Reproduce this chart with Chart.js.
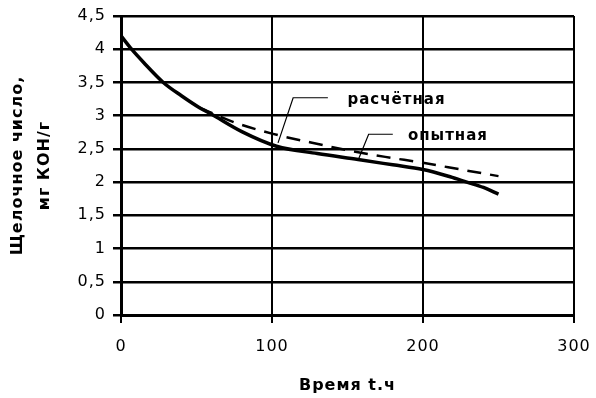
<!DOCTYPE html>
<html>
<head>
<meta charset="utf-8">
<script src="https://cdn.jsdelivr.net/npm/chart.js@4"></script>
<style>
  html, body { margin: 0; padding: 0; background: #fff; }
  #wrap { width: 596px; height: 398px; }
</style>
</head>
<body>
<div id="wrap"><canvas id="c" width="596" height="398"></canvas></div>
<script>
// Experimental curve ("опытная"), solid
const expTime  = [0, 7, 15, 28, 40, 52, 60, 80, 103, 130, 157, 180, 200, 218, 229, 240, 250];
const expValue = [4.2, 4.0, 3.8, 3.5, 3.3, 3.12, 3.02, 2.76, 2.54, 2.43, 2.34, 2.26, 2.19, 2.08, 2.0, 1.92, 1.82];

// Calculated curve ("расчётная"), dashed
const calcTime  = [52, 75, 100, 125, 150, 175, 200, 225, 250];
const calcValue = [3.12, 2.9, 2.73, 2.6, 2.48, 2.38, 2.29, 2.19, 2.09];

// Axis settings
const xTicks = [0, 100, 200, 300];
const yMin = 0, yMax = 4.5, yStep = 0.5;
const xTitle = 'Время t.ч';
const yTitle = ['Щелочное число,', 'мг КОН/г'];

// Callout labels and their leader lines (in data units)
const labelTexts = ['расчётная', 'опытная'];
const labelX = [150, 190];
const labelY = [3.23, 2.69];
const leaderCalcX = [104, 114, 137];
const leaderCalcY = [2.59, 3.27, 3.27];
const leaderExpX = [157, 164, 180];
const leaderExpY = [2.33, 2.72, 2.72];

const toPts = (xs, ys) => xs.map((x, i) => ({ x: x, y: ys[i] }));
const FONT = '"DejaVu Sans", "Liberation Sans", Arial, sans-serif';

const spacingPlugin = {
  id: 'spacing',
  beforeDraw(chart) {
    if ('letterSpacing' in chart.ctx) chart.ctx.letterSpacing = '1px';
  }
};

const calloutPlugin = {
  id: 'callouts',
  afterDatasetsDraw(chart) {
    const ctx = chart.ctx;
    const xs = chart.scales.x, ys = chart.scales.y;
    ctx.save();
    ctx.fillStyle = '#000';
    ctx.font = 'bold 15px ' + FONT;
    ctx.textBaseline = 'middle';
    ctx.textAlign = 'left';
    labelTexts.forEach((t, i) => {
      ctx.fillText(t, xs.getPixelForValue(labelX[i]), ys.getPixelForValue(labelY[i]));
    });
    ctx.restore();
  }
};

new Chart(document.getElementById('c'), {
  type: 'line',
  data: {
    datasets: [
      {
        label: 'опытная',
        data: toPts(expTime, expValue),
        borderColor: '#000',
        borderWidth: 3.5,
        pointRadius: 0,
        cubicInterpolationMode: 'monotone',
        fill: false
      },
      {
        label: 'расчётная',
        data: toPts(calcTime, calcValue),
        borderColor: '#000',
        borderWidth: 2.5,
        borderDash: [14, 9],
        pointRadius: 0,
        cubicInterpolationMode: 'monotone',
        fill: false
      },
      {
        label: 'leader1',
        data: toPts(leaderCalcX, leaderCalcY),
        borderColor: '#000',
        borderWidth: 1.2,
        pointRadius: 0,
        tension: 0,
        fill: false
      },
      {
        label: 'leader2',
        data: toPts(leaderExpX, leaderExpY),
        borderColor: '#000',
        borderWidth: 1.2,
        pointRadius: 0,
        tension: 0,
        fill: false
      }
    ]
  },
  options: {
    responsive: false,
    animation: false,
    devicePixelRatio: 1,
    layout: { padding: { top: 16, right: 22, bottom: 0, left: 0 } },
    plugins: { legend: { display: false }, tooltip: { enabled: false } },
    scales: {
      x: {
        type: 'linear',
        min: 0, max: 300,
        afterBuildTicks: (s) => { s.ticks = xTicks.map(v => ({ value: v })); },
        afterFit: (s) => { s.height = 83; s.paddingLeft = 0; s.paddingRight = 0; },
        ticks: {
          color: '#000',
          font: { family: FONT, size: 16 },
          padding: 14,
          maxRotation: 0
        },
        grid: { color: '#000', lineWidth: 2, tickLength: 8, drawTicks: true },
        border: { color: '#000', width: 3 },
        title: {
          display: true,
          text: xTitle,
          color: '#000',
          font: { family: FONT, size: 16, weight: 'bold' },
          padding: { top: 0, bottom: 3 }
        }
      },
      y: {
        min: yMin, max: yMax,
        afterFit: (s) => { s.width = 121; s.paddingTop = 0; s.paddingBottom = 0; },
        ticks: {
          stepSize: yStep,
          color: '#000',
          font: { family: FONT, size: 16 },
          padding: 7,
          callback: (v) => String(v).replace('.', ',')
        },
        grid: { color: '#000', lineWidth: 2.5, tickLength: 8, drawTicks: true },
        border: { color: '#000', width: 3 },
        title: {
          display: true,
          text: yTitle,
          color: '#000',
          font: { family: FONT, size: 16, weight: 'bold', lineHeight: 1.7 },
          padding: { top: 4, bottom: 0 }
        }
      }
    }
  },
  plugins: [spacingPlugin, calloutPlugin]
});
</script>
</body>
</html>
